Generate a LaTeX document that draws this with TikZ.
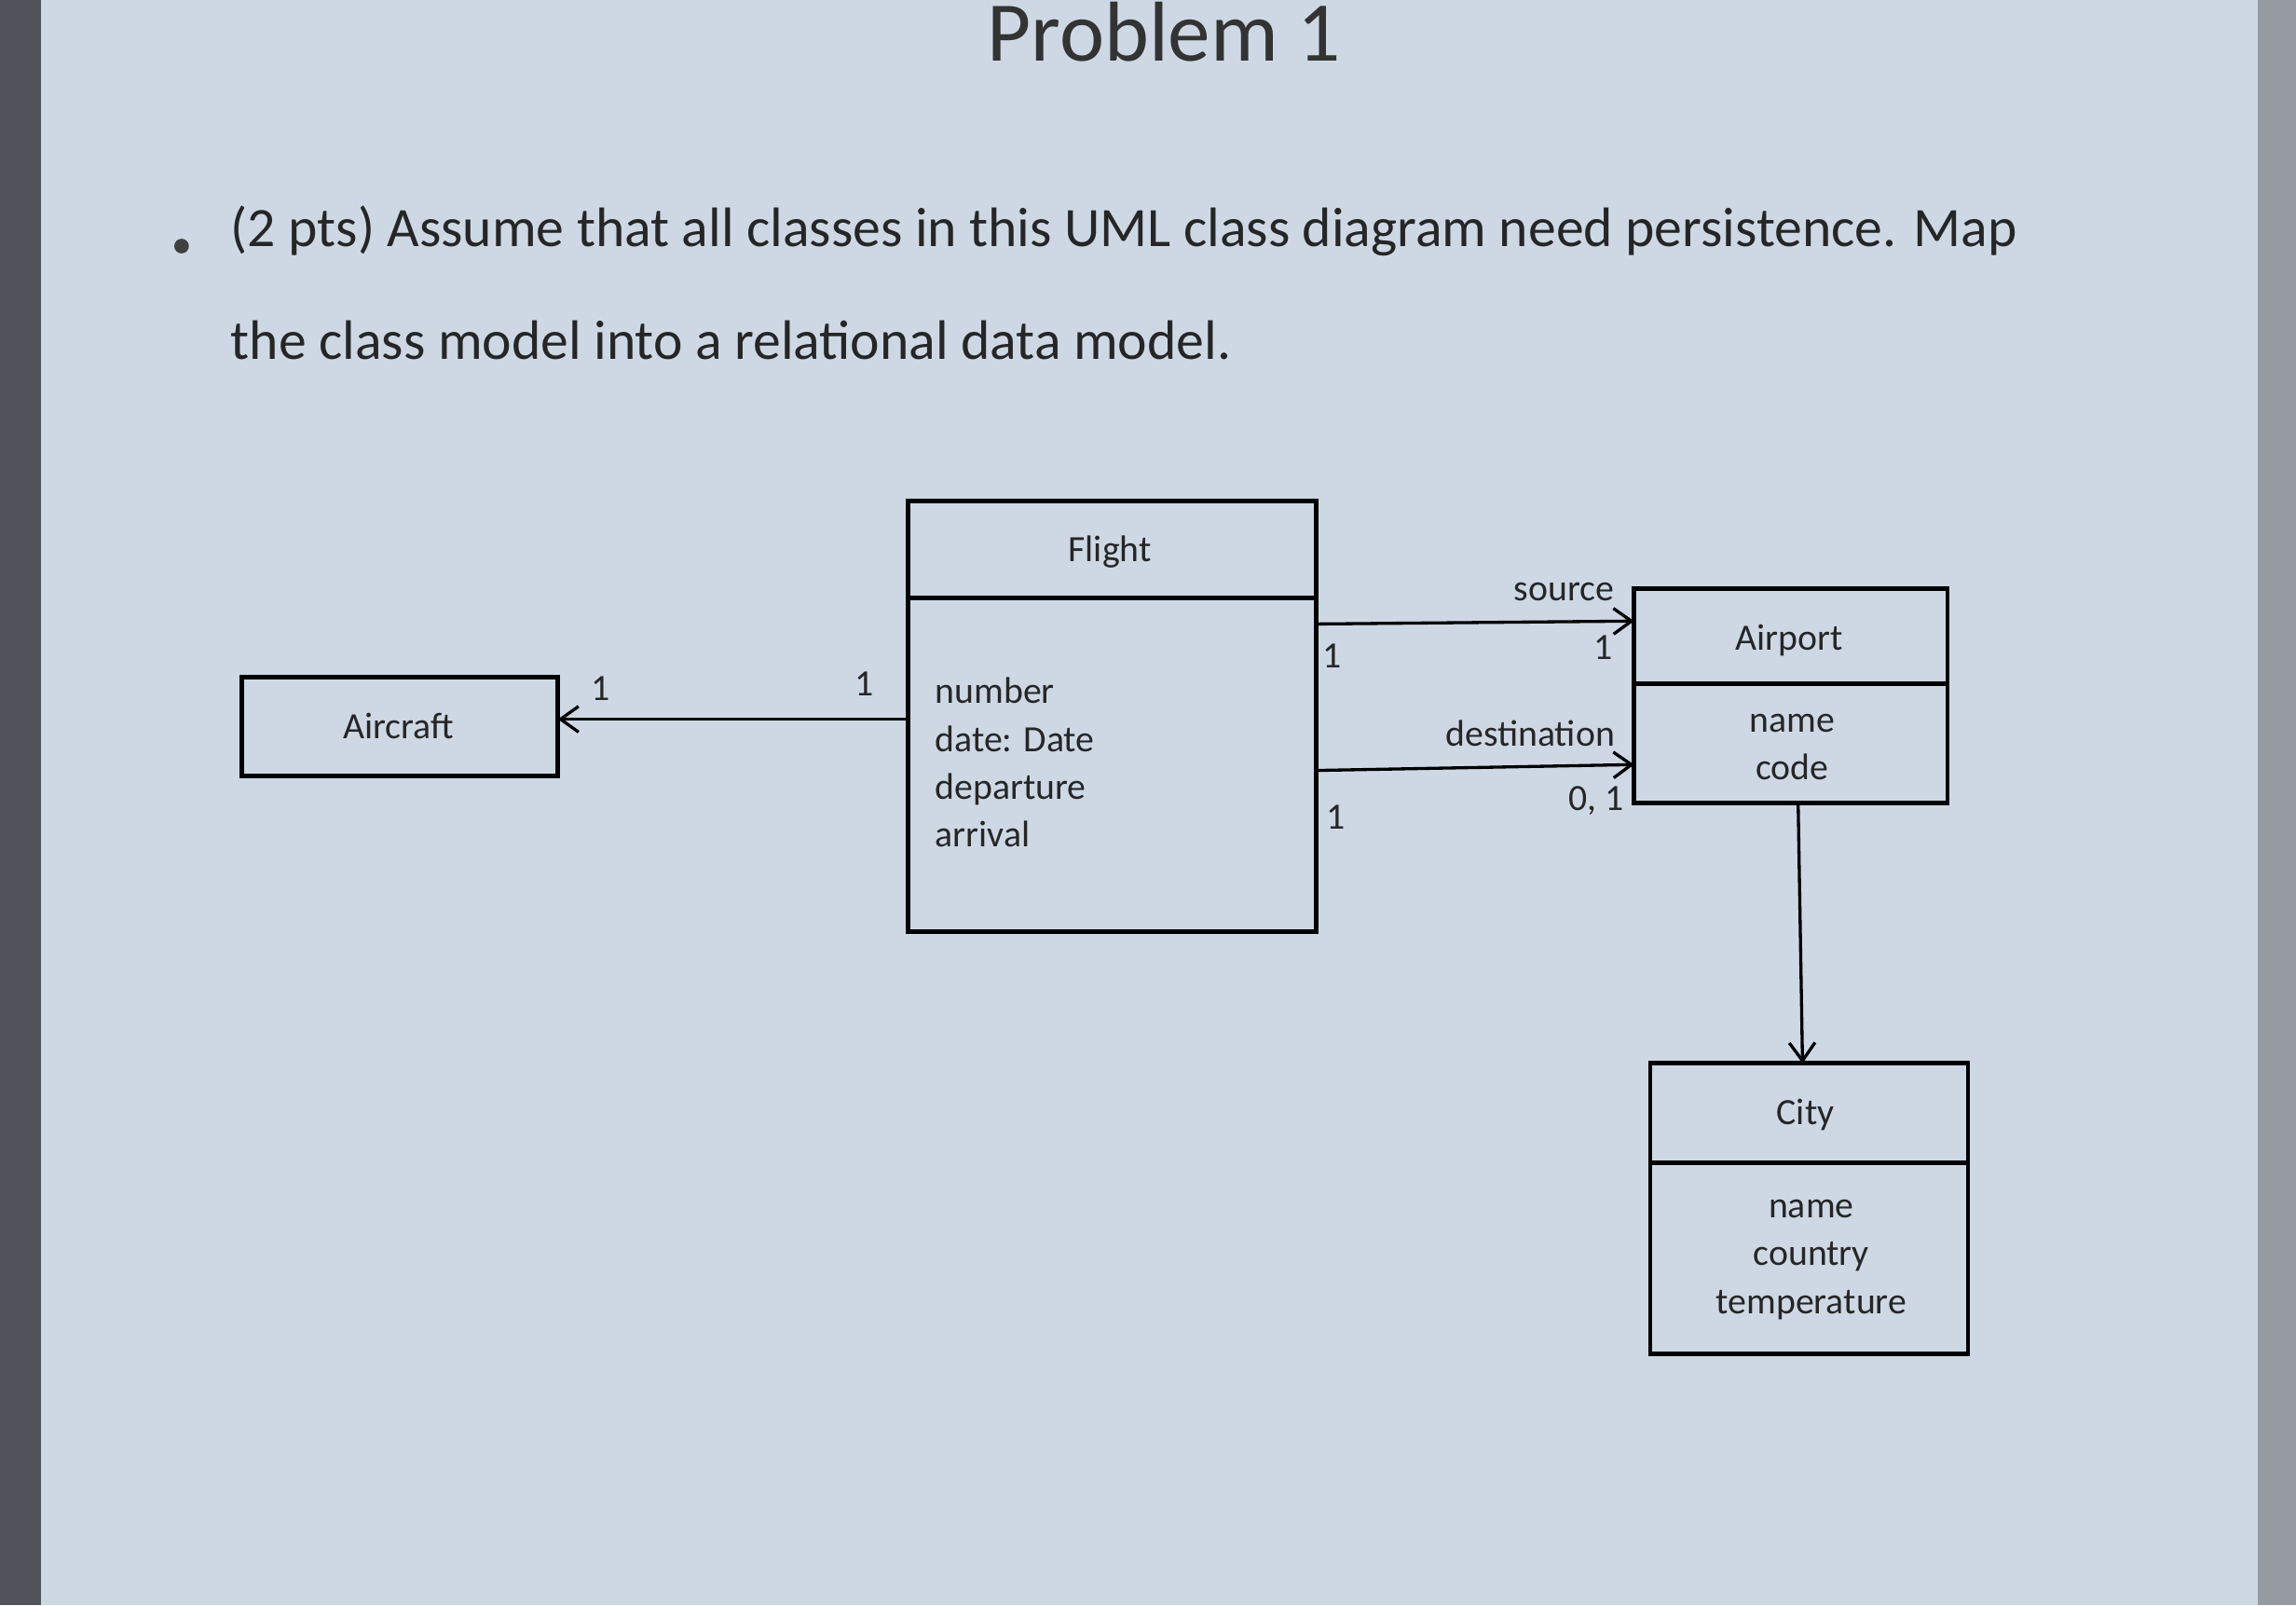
\documentclass[tikz,border=0pt]{standalone}
\usepackage{fontspec}
\setmainfont{Carlito}
\usetikzlibrary{arrows.meta}
\begin{document}
\begin{tikzpicture}[x=0.01cm,y=-0.01cm,
  box/.style={draw=black,line width=0.9pt},
  lbl/.style={font=\fontsize{7.2}{8.5}\selectfont,text=black!85,inner sep=0pt},
  assoc/.style={line width=0.6pt,-{Straight Barb[length=3.5pt,width=5pt]}}]
\useasboundingbox (0,0) rectangle (1568,1096);
\fill[fill={rgb,255:red,206;green,216;blue,229}] (0,0) rectangle (1568,1096);
\fill[fill={rgb,255:red,80;green,84;blue,90}] (0,0) rectangle (28,1096);
\fill[fill={rgb,255:red,150;green,155;blue,162}] (1542,0) rectangle (1568,1096);
\node[font=\fontsize{16.5}{18}\selectfont,text=black!80] (title) at (795,22) {Problem 1};
\node[fill=black!75,circle,inner sep=0pt,minimum size=0.1cm] (b) at (124,168) {};
\node[font=\fontsize{10.8}{13}\selectfont,text=black!85,anchor=west,inner sep=0pt] (l1) at (157,158) {(2 pts) Assume that all classes in this UML class diagram need persistence. Map};
\node[font=\fontsize{10.8}{13}\selectfont,text=black!85,anchor=west,inner sep=0pt] (l2) at (157,232) {the class model into a relational data model.};
% Flight
\draw[box] (620,342) rectangle (899,636);
\draw[box] (620,408) -- (899,408);
\coordinate (fl) at (620,491);
\node[lbl] (flt) at (758,377) {Flight};
\node[lbl,anchor=north west,align=left,font=\fontsize{7.2}{9.3}\selectfont] (fa) at (638,462) {number\\date: Date\\departure\\arrival};
% Aircraft
\draw[box] (165,462) rectangle (381,530);
\node[lbl] (ac) at (272,496) {Aircraft};
\coordinate (acr) at (381,491);
% Airport
\draw[box] (1116,402) rectangle (1330,548);
\draw[box] (1116,467) -- (1330,467);
\node[lbl] (ap) at (1222,437) {Airport};
\node[lbl,align=center,font=\fontsize{7.2}{9.3}\selectfont] (apa) at (1224,510) {name\\code};
% City
\draw[box] (1127,726) rectangle (1344,924);
\draw[box] (1127,794) -- (1344,794);
\node[lbl] (ct) at (1233,761) {City};
\node[lbl,align=center,font=\fontsize{7.2}{9.3}\selectfont] (cta) at (1237,860) {name\\country\\temperature};
% connectors
\coordinate (s1) at (899,426);
\coordinate (s2) at (1116,424);
\coordinate (d1) at (899,526);
\coordinate (d2) at (1116,522);
\coordinate (c1) at (1228,548);
\coordinate (c2) at (1231,726);
\draw[assoc] (fl) -- (acr);
\draw[assoc] (s1) -- (s2);
\draw[assoc] (d1) -- (d2);
\draw[assoc] (c1) -- (c2);
\node[lbl] (m1) at (410,470) {1};
\node[lbl] (m2) at (590,467) {1};
\node[lbl] (m3) at (910,448) {1};
\node[lbl] (m4) at (1095,442) {1};
\node[lbl] (src) at (1068,404) {source};
\node[lbl] (dst) at (1045,501) {destination};
\node[lbl] (m5) at (1090,547) {0, 1};
\node[lbl] (m6) at (912,558) {1};
\end{tikzpicture}
\end{document}
